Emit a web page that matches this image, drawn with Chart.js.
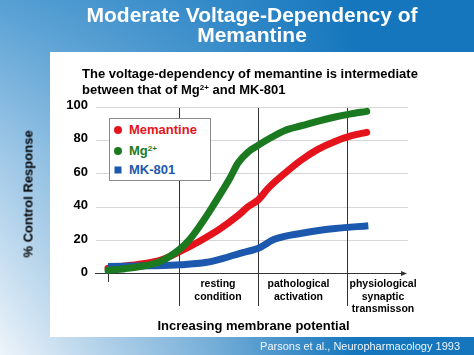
<!DOCTYPE html>
<html><head><meta charset="utf-8">
<script src="https://cdn.jsdelivr.net/npm/chart.js@4"></script>
<style>
html,body{margin:0;padding:0;}
body{width:474px;height:355px;position:relative;overflow:hidden;font-family:"Liberation Sans",Arial,Helvetica,sans-serif;
background:
 linear-gradient(to right, rgba(21,118,189,0) 0%, rgba(21,118,189,0.55) 45%, rgba(21,118,189,1) 75%),
 linear-gradient(to bottom, #56a0d4 0%, #a3cae8 45%, #eef4fa 100%);}
#panel{position:absolute;left:50px;top:52px;width:424px;height:285px;background:#fff;}
#c{position:absolute;left:0;top:0;}
.t{position:absolute;white-space:nowrap;}
#title{left:52px;top:5px;width:400px;text-align:center;color:#fff;font-weight:bold;font-size:21px;line-height:20px;}
#sub{left:82px;top:66px;font-weight:bold;font-size:13px;line-height:16px;color:#000;}
#ytitle{left:28px;top:194px;transform:translate(-50%,-50%) rotate(-90deg);font-weight:bold;font-size:13px;color:#000;}
#xtitle{left:253.5px;top:325px;transform:translate(-50%,-50%);font-weight:bold;font-size:13px;color:#000;}
#foot{right:14px;top:346px;transform:translateY(-50%);font-size:11px;color:#eef5fb;}
.reg{position:absolute;transform:translateX(-50%);text-align:center;font-weight:bold;font-size:10.5px;line-height:12.5px;color:#000;white-space:nowrap;top:277px;}
#legend{position:absolute;left:109px;top:118px;width:100px;height:61px;border:1px solid #8a8a8a;background:#fff;}
.li{position:absolute;left:19px;font-weight:bold;font-size:13px;line-height:16px;transform:translateY(-50%);white-space:nowrap;}
.mk{position:absolute;width:8px;height:8px;transform:translate(-50%,-50%);}
sup{font-size:8px;vertical-align:top;position:relative;top:-2px;}
</style></head>
<body>
<div id="panel"></div>
<canvas id="c" width="474" height="355"></canvas>
<div class="t" id="title">Moderate Voltage-Dependency of<br>Memantine</div>
<div class="t" id="sub">The voltage-dependency of memantine is intermediate<br>between that of Mg<sup>2+</sup> and MK-801</div>
<div class="t" id="ytitle">% Control Response</div>
<div class="t" id="xtitle">Increasing membrane potential</div>
<div class="t" id="foot">Parsons et al., Neuropharmacology 1993</div>
<div id="legend">
  <div class="mk" style="left:8px;top:11px;background:#e5141c;border-radius:50%;"></div>
  <div class="li" style="top:11px;color:#e5141c;">Memantine</div>
  <div class="mk" style="left:8px;top:31.5px;background:#1b7a1f;border-radius:50%;"></div>
  <div class="li" style="top:31.5px;color:#1b7a1f;">Mg<sup>2+</sup></div>
  <div class="mk" style="left:8px;top:51px;background:#1c58ad;width:7px;height:7px;"></div>
  <div class="li" style="top:51px;color:#1c58ad;">MK-801</div>
</div>
<div id="regions"></div>
<script>
// ---- data (x: membrane-potential axis units 0..100, y: % control response)
const memX = [3.85, 9.29, 15.06, 20.51, 26.92, 33.33, 39.74, 45.51, 48.81, 52.02, 55.22, 60.58, 65.93, 71.25, 76.60, 81.96, 86.76];
const memY = [3.5, 4.8, 6.2, 8.2, 13.5, 19.8, 27, 35, 40.4, 44.4, 51.4, 60.4, 68.4, 74.8, 79.4, 82.8, 84.8];
const mgX  = [3.85, 9.29, 14.10, 20.51, 26.92, 30.13, 33.33, 36.54, 39.74, 42.95, 45.51, 48.72, 51.92, 56.41, 60.58, 65.93, 71.25, 76.60, 80.87, 86.76];
const mgY  = [2.2, 3.2, 4.5, 7.4, 15, 21, 29, 38, 47.5, 57.5, 66.5, 73, 77, 82, 86, 88.8, 91.6, 94, 95.6, 97.4];
const mkX  = [3.85, 17.31, 26.92, 35.48, 40.80, 46.15, 52.02, 57.37, 65.93, 76.60, 87.28];
const mkY  = [4.5, 4.9, 5.5, 7.0, 9.4, 12.4, 15.4, 20.9, 24.4, 27.2, 28.9];
const seriesNames = ['Memantine', 'Mg2+', 'MK-801'];
const regionBoundaries = [26.6, 51.9, 80.4];
const startTick = 3.85;
const regionLabels = [['resting','condition'], ['pathological','activation'], ['physiological','synaptic','transmisson']];
const regionCenters = [39.1, 64.9, 92.0];
const yTickStep = 20;

const pts = (xs, ys) => xs.map((x, i) => ({x, y: ys[i]}));

const decor = {
  id: 'decor',
  beforeDatasetsDraw(chart) {
    const {ctx, scales: {x, y}, chartArea} = chart;
    ctx.save();
    ctx.strokeStyle = '#333'; ctx.lineWidth = 1;
    const top = y.getPixelForValue(100) + 1, base = y.getPixelForValue(0);
    regionBoundaries.forEach(v => {
      const px = Math.round(x.getPixelForValue(v)) + 0.5;
      ctx.beginPath(); ctx.moveTo(px, top); ctx.lineTo(px, base + 32); ctx.stroke();
    });
    const sx = Math.round(x.getPixelForValue(startTick)) + 0.5;
    ctx.beginPath(); ctx.moveTo(sx, base); ctx.lineTo(sx, base + 8); ctx.stroke();
    const by = Math.round(base) - 0.5;
    ctx.beginPath(); ctx.moveTo(chartArea.left - 1, by); ctx.lineTo(chartArea.right - 5, by); ctx.stroke();
    ctx.fillStyle = '#333';
    ctx.beginPath(); ctx.moveTo(chartArea.right - 1, by); ctx.lineTo(chartArea.right - 7, by - 2.5); ctx.lineTo(chartArea.right - 7, by + 2.5); ctx.closePath(); ctx.fill();
    ctx.restore();
  }
};

const chart = new Chart(document.getElementById('c'), {
  type: 'line',
  data: {
    datasets: [
      {label: seriesNames[1], data: pts(mgX, mgY), borderColor: '#1b7a1f', borderWidth: 7, pointRadius: 0, cubicInterpolationMode: 'monotone', borderCapStyle: 'round', order: 1},
      {label: seriesNames[2], data: pts(mkX, mkY), borderColor: '#1c58ad', borderWidth: 7, pointRadius: 0, cubicInterpolationMode: 'monotone', borderCapStyle: 'butt', order: 2},
      {label: seriesNames[0], data: pts(memX, memY), borderColor: '#e5141c', borderWidth: 7, pointRadius: 0, cubicInterpolationMode: 'monotone', borderCapStyle: 'round', order: 3}
    ]
  },
  options: {
    responsive: false, animation: false, devicePixelRatio: 1,
    layout: {padding: {left: 50, top: 107, right: 66, bottom: 81}},
    plugins: {legend: {display: false}, tooltip: {enabled: false}},
    scales: {
      x: {type: 'linear', min: 0, max: 100, display: false},
      y: {
        min: 0, max: 100,
        ticks: {stepSize: yTickStep, color: '#000', padding: 8, labelOffset: -1.5, font: {family: '"Liberation Sans", Arial, sans-serif', size: 13, weight: 'bold'}},
        grid: {drawTicks: false, color: c => c.tick && c.tick.value === 0 ? 'rgba(0,0,0,0)' : '#d6d6d6'},
        border: {display: false},
        afterFit: s => { s.width = 46; }
      }
    }
  },
  plugins: [decor]
});

const xs = chart.scales.x;
const reg = document.getElementById('regions');
regionLabels.forEach((lines, i) => {
  const d = document.createElement('div');
  d.className = 'reg';
  d.style.left = xs.getPixelForValue(regionCenters[i]) + 'px';
  d.innerHTML = lines.join('<br>');
  reg.appendChild(d);
});
</script>
</body></html>
